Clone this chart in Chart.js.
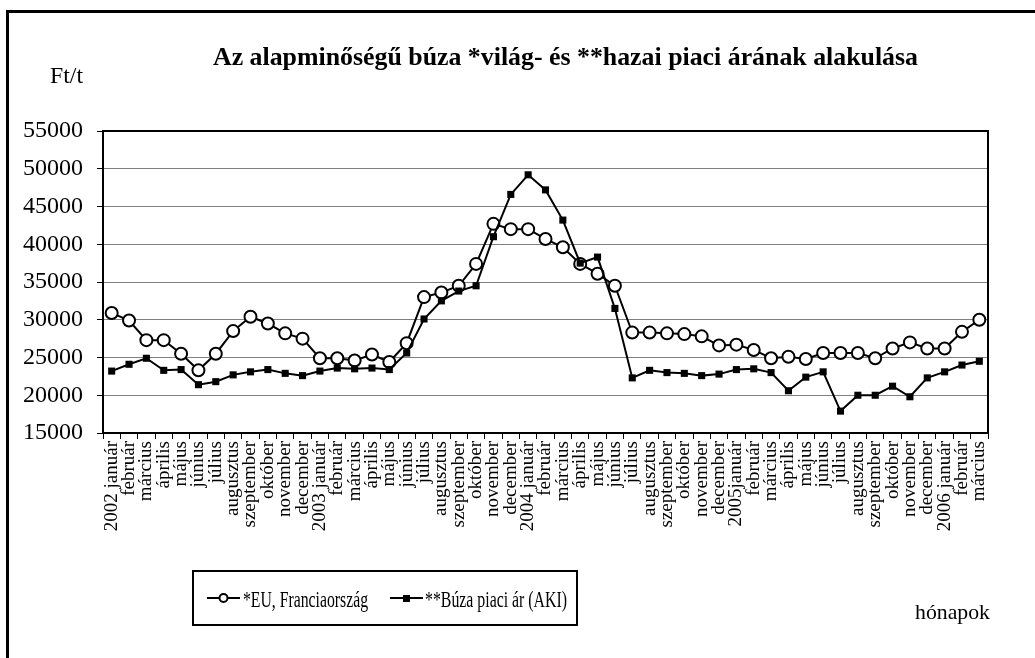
<!DOCTYPE html>
<html>
<head>
<meta charset="utf-8">
<script src="https://cdn.jsdelivr.net/npm/chart.js@4/dist/chart.umd.min.js"></script>
<style>
html, body { margin: 0; padding: 0; background: #fff; }
#wrap { position: relative; width: 1035px; height: 658px; }
</style>
</head>
<body>
<div id="wrap"><canvas id="buzaChart"></canvas></div>
<script>
// hónapok (2002 január - 2006 március)
const honapok = [
    "2002 január", "február", "március", "április", "május", "június", "július", "augusztus", "szeptember", "október", "november", "december",
    "2003 január", "február", "március", "április", "május", "június", "július", "augusztus", "szeptember", "október", "november", "december",
    "2004 január", "február", "március", "április", "május", "június", "július", "augusztus", "szeptember", "október", "november", "december",
    "2005január", "február", "március", "április", "május", "június", "július", "augusztus", "szeptember", "október", "november", "december",
    "2006 január", "február", "március"
];

// *EU, Franciaország (Ft/t)
const euAr = [
    30900, 29900, 27300, 27300, 25500, 23300, 25500, 28500, 30400, 29500, 28200, 27500,
    24900, 24900, 24600, 25400, 24400, 26900, 33000, 33600, 34500, 37400, 42700, 42000,
    42000, 40700, 39600, 37400, 36100, 34500, 28300, 28300, 28200, 28100, 27800, 26600,
    26700, 26000, 24900, 25100, 24800, 25600, 25600, 25600, 24900, 26200, 27000, 26200,
    26200, 28400, 30000
];

// **Búza piaci ár (AKI) (Ft/t)
const akiAr = [
    23200, 24100, 24900, 23300, 23400, 21400, 21800, 22700, 23100, 23400, 22900, 22600,
    23200, 23600, 23500, 23600, 23400, 25600, 30100, 32500, 33800, 34500, 41000, 46600,
    49200, 47200, 43200, 37500, 38300, 31500, 22300, 23300, 23000, 22900, 22600, 22800,
    23400, 23500, 23000, 20600, 22400, 23100, 17900, 20000, 20000, 21200, 19800, 22300,
    23100, 24000, 24500
];

const yMin = 15000;
const yMax = 55000;
const yStep = 5000;

const cim = "Az alapminőségű búza *világ- és **hazai piaci árának alakulása";
const yCim = "Ft/t";
const xCim = "hónapok";

const SERIF = '"Liberation Serif", "Times New Roman", serif';

// szöveg vízszintesen a megadott szélességre igazítva
function fitText(ctx, text, x, y, width, align) {
    const w = ctx.measureText(text).width;
    const sx = width / w;
    ctx.save();
    ctx.textAlign = 'left';
    let x0 = x;
    if (align === 'center') x0 = x - width / 2;
    ctx.translate(x0, y);
    ctx.scale(sx, 1);
    ctx.fillText(text, 0, 0);
    ctx.restore();
}

// keret, cím, tengelyfeliratok és jelmagyarázat
const keretPlugin = {
    id: 'keret',
    beforeDatasetsDraw(chart) {
        const ctx = chart.ctx;
        const a = chart.chartArea;
        ctx.save();
        ctx.strokeStyle = '#000';
        ctx.lineWidth = 2;
        ctx.strokeRect(a.left, a.top, a.right - a.left, a.bottom - a.top);
        ctx.restore();
    },
    afterDraw(chart) {
        const ctx = chart.ctx;
        ctx.save();
        // külső keret
        ctx.strokeStyle = '#000';
        ctx.lineWidth = 3;
        ctx.strokeRect(7.5, 11.5, 1200, 1000);

        ctx.fillStyle = '#000';
        ctx.textBaseline = 'alphabetic';
        ctx.font = 'bold 25px ' + SERIF;
        fitText(ctx, cim, 565.5, 65, 705, 'center');

        ctx.font = '24px ' + SERIF;
        fitText(ctx, yCim, 50, 83, 33, 'left');
        ctx.font = '22px ' + SERIF;
        fitText(ctx, xCim, 915, 619, 75, 'left');

        // jelmagyarázat
        ctx.lineWidth = 2;
        ctx.strokeRect(193, 571, 384, 54);
        const ly = 598;
        const ds = chart.data.datasets;
        // EU
        ctx.beginPath();
        ctx.moveTo(207, ly); ctx.lineTo(240, ly);
        ctx.stroke();
        ctx.beginPath();
        ctx.arc(223.5, ly, 4, 0, Math.PI * 2);
        ctx.fillStyle = '#fff';
        ctx.fill();
        ctx.stroke();
        ctx.fillStyle = '#000';
        ctx.font = '24px ' + SERIF;
        fitText(ctx, ds[0].label, 243, 607, 125, 'left');
        // AKI
        ctx.beginPath();
        ctx.moveTo(390, ly); ctx.lineTo(423, ly);
        ctx.stroke();
        ctx.fillRect(403, ly - 3, 7, 7);
        fitText(ctx, ds[1].label, 425, 607, 142, 'left');
        ctx.restore();
    }
};

const data = {
    labels: honapok,
    datasets: [
        {
            label: '*EU, Franciaország',
            data: euAr,
            borderColor: '#000',
            borderWidth: 2,
            backgroundColor: '#fff',
            pointStyle: 'circle',
            pointRadius: 6,
            pointBorderWidth: 2,
            pointBackgroundColor: '#fff',
            pointBorderColor: '#000',
            tension: 0,
            order: 1
        },
        {
            label: '**Búza piaci ár (AKI)',
            data: akiAr,
            borderColor: '#000',
            borderWidth: 2,
            backgroundColor: '#000',
            pointStyle: 'rect',
            pointRadius: 5,
            pointBorderWidth: 0,
            pointBackgroundColor: '#000',
            pointBorderColor: '#000',
            tension: 0,
            order: 0
        }
    ]
};

const config = {
    type: 'line',
    data: data,
    options: {
        responsive: true,
        maintainAspectRatio: false,
        animation: false,
        events: [],
        layout: {
            padding: { top: 131, right: 47, left: 0, bottom: 0 }
        },
        plugins: {
            legend: { display: false },
            tooltip: { enabled: false },
            title: { display: false }
        },
        scales: {
            y: {
                min: yMin,
                max: yMax,
                afterFit: (scale) => { scale.width = 103; },
                ticks: {
                    stepSize: yStep,
                    color: '#000',
                    padding: 14,
                    font: { family: SERIF, size: 24 },
                    callback: (value) => String(value)
                },
                grid: {
                    color: '#808080',
                    lineWidth: 1,
                    tickLength: 6,
                    tickColor: '#000'
                },
                border: { display: true, color: '#000', width: 2 }
            },
            x: {
                offset: true,
                afterFit: (scale) => { scale.height = 225; },
                ticks: {
                    autoSkip: false,
                    minRotation: 90,
                    maxRotation: 90,
                    color: '#000',
                    padding: 2,
                    font: { family: SERIF, size: 19, lineHeight: 1 }
                },
                grid: {
                    offset: true,
                    drawOnChartArea: false,
                    tickLength: 6,
                    tickColor: '#000'
                },
                border: { display: true, color: '#000', width: 2 }
            }
        }
    },
    plugins: [keretPlugin]
};

const ctx = document.getElementById('buzaChart').getContext('2d');
const buzaChart = new Chart(ctx, config);
</script>
</body>
</html>
